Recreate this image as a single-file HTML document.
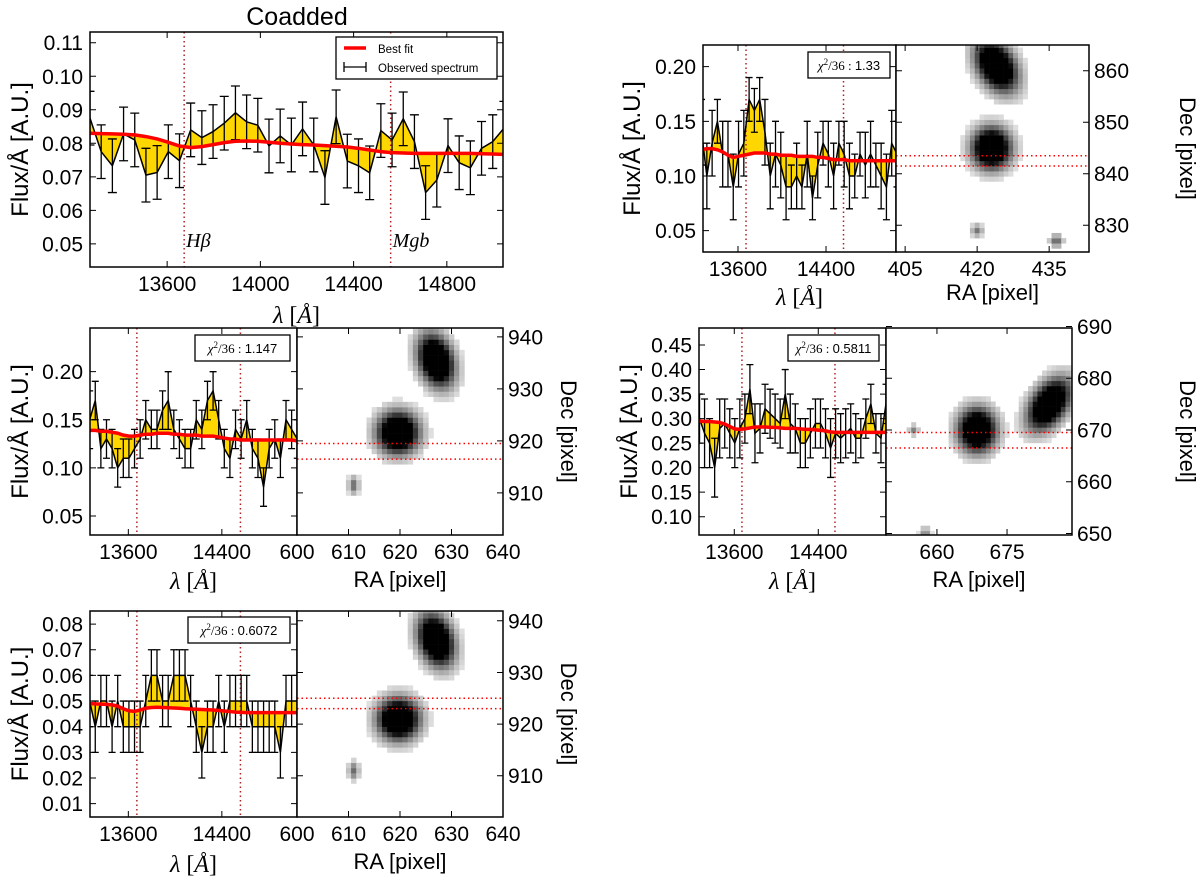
<!DOCTYPE html>
<html><head><meta charset="utf-8">
<style>
html,body{margin:0;padding:0;background:#fff;}
svg{display:block;font-family:"Liberation Sans",sans-serif;}
</style></head>
<body>
<svg id="fig" width="1200" height="883" viewBox="0 0 1200 883" xmlns="http://www.w3.org/2000/svg"></svg>
<script>
// ---- shared wavelength grid ----
const wave = [13269,13317,13365,13413,13461,13509,13557,13605,13653,13701,13749,13797,13845,13893,13941,13989,14037,14085,14133,14181,14229,14277,14325,14373,14421,14469,14517,14565,14613,14661,14709,14757,14805,14853,14901,14949,14997,15045];
// ---- Panel A (coadded) ----
const fluxA = [0.0875,0.0775,0.0733,0.0828,0.0810,0.0705,0.0713,0.0775,0.0748,0.0840,0.0817,0.0835,0.0860,0.0891,0.0864,0.0854,0.0792,0.0822,0.0795,0.0843,0.0795,0.0698,0.0879,0.0747,0.0733,0.0712,0.0838,0.0810,0.0873,0.0805,0.0653,0.0690,0.0793,0.0742,0.0727,0.0785,0.0805,0.0845];
const errA = [0.008,0.008,0.008,0.008,0.008,0.008,0.008,0.008,0.008,0.008,0.008,0.008,0.008,0.008,0.008,0.008,0.008,0.008,0.008,0.008,0.008,0.008,0.008,0.008,0.008,0.008,0.008,0.008,0.008,0.008,0.008,0.008,0.008,0.008,0.008,0.008,0.008,0.008];
const fitA = [0.0830,0.0829,0.0828,0.0827,0.0825,0.0820,0.0813,0.0803,0.0792,0.0787,0.0790,0.0796,0.0802,0.0806,0.0807,0.0806,0.0803,0.0800,0.0798,0.0796,0.0795,0.0793,0.0791,0.0789,0.0785,0.0780,0.0775,0.0772,0.0771,0.0770,0.0770,0.0770,0.0770,0.0770,0.0770,0.0769,0.0768,0.0767];
const yticksA = [0.05,0.06,0.07,0.08,0.09,0.10,0.11];
const xticksA = [13600,14000,14400,14800];
// ---- Panel B ----
const fluxB = [0.14,0.10,0.13,0.15,0.12,0.12,0.09,0.12,0.13,0.17,0.16,0.17,0.14,0.10,0.12,0.11,0.09,0.09,0.10,0.09,0.12,0.08,0.11,0.13,0.12,0.10,0.13,0.12,0.10,0.10,0.12,0.11,0.12,0.11,0.10,0.09,0.13,0.12];
const errB = [0.03,0.03,0.03,0.02,0.03,0.03,0.03,0.03,0.03,0.02,0.02,0.02,0.03,0.03,0.03,0.03,0.03,0.02,0.03,0.02,0.03,0.02,0.03,0.02,0.03,0.03,0.02,0.03,0.03,0.02,0.02,0.03,0.03,0.02,0.03,0.03,0.03,0.03];
const fitB = [0.124,0.125,0.125,0.124,0.122,0.119,0.117,0.118,0.119,0.120,0.121,0.121,0.121,0.120,0.120,0.119,0.119,0.119,0.118,0.118,0.118,0.118,0.117,0.117,0.116,0.115,0.115,0.115,0.114,0.114,0.114,0.114,0.114,0.114,0.114,0.114,0.114,0.114];
const yticksB = [0.05,0.10,0.15,0.20];
// ---- Panel C ----
const fluxC = [0.15,0.17,0.12,0.13,0.12,0.10,0.11,0.11,0.12,0.13,0.15,0.14,0.14,0.16,0.17,0.14,0.13,0.12,0.12,0.15,0.14,0.17,0.18,0.15,0.12,0.11,0.14,0.13,0.15,0.12,0.11,0.08,0.12,0.13,0.11,0.15,0.14,0.13];
const errC = [0.03,0.02,0.02,0.02,0.02,0.02,0.02,0.02,0.02,0.02,0.02,0.02,0.02,0.02,0.03,0.02,0.02,0.02,0.02,0.02,0.02,0.02,0.02,0.02,0.02,0.02,0.02,0.02,0.02,0.02,0.02,0.02,0.02,0.02,0.02,0.02,0.02,0.02];
const fitC = [0.139,0.139,0.138,0.138,0.137,0.136,0.134,0.133,0.133,0.134,0.135,0.135,0.136,0.136,0.136,0.135,0.135,0.134,0.134,0.134,0.133,0.133,0.133,0.132,0.131,0.130,0.130,0.129,0.129,0.129,0.129,0.129,0.129,0.129,0.129,0.129,0.129,0.128];
const yticksC = [0.05,0.10,0.15,0.20];
// ---- Panel D ----
const fluxD = [0.30,0.27,0.25,0.20,0.28,0.29,0.27,0.25,0.28,0.30,0.36,0.27,0.28,0.32,0.31,0.30,0.29,0.35,0.29,0.28,0.25,0.25,0.27,0.29,0.29,0.27,0.24,0.27,0.26,0.27,0.28,0.26,0.26,0.30,0.33,0.27,0.26,0.33];
const errD = [0.05,0.07,0.05,0.06,0.06,0.05,0.05,0.05,0.06,0.05,0.05,0.06,0.05,0.05,0.05,0.05,0.05,0.05,0.06,0.05,0.05,0.05,0.05,0.05,0.05,0.05,0.06,0.05,0.05,0.05,0.05,0.05,0.04,0.04,0.04,0.04,0.05,0.04];
const fitD = [0.295,0.294,0.294,0.293,0.292,0.289,0.284,0.279,0.278,0.279,0.281,0.283,0.283,0.283,0.282,0.282,0.281,0.280,0.280,0.280,0.279,0.278,0.278,0.277,0.276,0.275,0.273,0.272,0.272,0.272,0.272,0.272,0.272,0.272,0.272,0.272,0.272,0.272];
const yticksD = [0.10,0.15,0.20,0.25,0.30,0.35,0.40,0.45];
// ---- Panel E ----
const fluxE = [0.05,0.04,0.05,0.05,0.04,0.05,0.04,0.04,0.04,0.04,0.05,0.06,0.06,0.05,0.05,0.06,0.06,0.06,0.05,0.04,0.03,0.04,0.04,0.05,0.04,0.05,0.05,0.05,0.05,0.04,0.04,0.04,0.04,0.04,0.03,0.05,0.05,0.05];
const errE = [0.01,0.01,0.01,0.01,0.01,0.01,0.01,0.01,0.01,0.01,0.01,0.01,0.01,0.01,0.01,0.01,0.01,0.01,0.01,0.01,0.01,0.01,0.01,0.01,0.01,0.01,0.01,0.01,0.01,0.01,0.01,0.01,0.01,0.01,0.01,0.01,0.01,0.01];
const fitE = [0.0490,0.0489,0.0488,0.0487,0.0485,0.0480,0.0470,0.0462,0.0460,0.0465,0.0472,0.0475,0.0476,0.0475,0.0474,0.0473,0.0472,0.0470,0.0469,0.0468,0.0467,0.0466,0.0465,0.0463,0.0461,0.0459,0.0457,0.0456,0.0455,0.0455,0.0455,0.0455,0.0455,0.0455,0.0455,0.0455,0.0455,0.0455];
const yticksE = [0.01,0.02,0.03,0.04,0.05,0.06,0.07,0.08];
const xticksSmall = [13600,14400];
const lineWaves = [13673,14559];
const lineNames = ["Hβ","Mgb"];
// ---- image blobs: [ra, dec, sigmaMinor, sigmaMajor, tiltDeg, amplitude] ----
const blobsB = [[423,845,2.2,2.2,0,2.3],[424,861,2.0,3.0,35,2.3],[420,829,0.7,0.7,0,0.35],[436.5,827,0.8,0.7,0,0.45]];
const blobsC = [[619.6,921.6,2.2,2.2,0,2.3],[627,935.5,1.8,2.8,18,2.3],[611,911.5,0.6,1.0,0,0.4]];
const blobsD = [[668.6,670,2.2,2.3,0,2.3],[684,675,1.9,3.1,-40,2.3],[655,670,0.6,0.6,0,0.3],[657.5,650,0.7,0.7,0,0.3]];
const blobsE = [[619.7,921,2.2,2.2,0,2.3],[627,936.3,1.8,2.8,18,2.3],[611,911,0.6,1.0,0,0.4]];
const raTicksB=[405,420,435], decTicksB=[830,840,850,860];
const raTicksC=[600,610,620,630,640], decTicksC=[910,920,930,940];
const raTicksD=[660,675], decTicksD=[650,660,670,680,690];
const decLinesB=[843.5,841.5], decLinesC=[919.5,916.5], decLinesD=[669.5,666.5], decLinesE=[925,923];

const NS="http://www.w3.org/2000/svg";
const svg=document.getElementById('fig');
function mk(tag,attrs,parent){const e=document.createElementNS(NS,tag);for(const k in attrs)e.setAttribute(k,attrs[k]);(parent||svg).appendChild(e);return e;}
function txt(s,attrs,parent){const t=mk('text',attrs,parent);t.textContent=s;return t;}
const TF=21;

function spectrum(name,box,xr,yr,flux,err,fit,yticks,xticks,fmt,cap,opts){
  const [x0,y0,x1,y1]=box;
  const X=v=>x0+(v-xr[0])/(xr[1]-xr[0])*(x1-x0);
  const Y=v=>y1-(v-yr[0])/(yr[1]-yr[0])*(y1-y0);
  const g=mk('g',{});
  
  
  const cid='clip-'+name;
  const cp=mk('clipPath',{id:cid},g); mk('rect',{x:x0,y:y0,width:x1-x0,height:y1-y0},cp);
  const pg=mk('g',{'clip-path':'url(#'+cid+')'},g);
  let pts=wave.map((w,i)=>X(w)+','+Y(flux[i]));
  let back=wave.map((w,i)=>X(w)+','+Y(fit[i])).reverse();
  const fill=mk('polygon',{points:pts.concat(back).join(' '),fill:'#ffd700',stroke:'none'},pg);
  
  
  lineWaves.forEach((w,i)=>{
    const l=mk('line',{x1:X(w),x2:X(w),y1:y0,y2:y1,stroke:'#b22222','stroke-width':1.5,'stroke-dasharray':'1.5,3'},pg);
    
    
  });
  wave.forEach((w,i)=>{
    const xx=X(w),ya=Y(flux[i]+err[i]),yb=Y(flux[i]-err[i]);
    const eb=mk('path',{d:`M${xx},${ya}V${yb}M${xx-cap},${ya}H${xx+cap}M${xx-cap},${yb}H${xx+cap}`,stroke:'#000','stroke-width':1.3,fill:'none'},pg);
    
    
  });
  const dl=mk('polyline',{points:pts.join(' '),fill:'none',stroke:'#000','stroke-width':1.5},pg);
  
  
  const fl=mk('polyline',{points:wave.map((w,i)=>X(w)+','+Y(fit[i])).join(' '),fill:'none',stroke:'#ff0000','stroke-width':3.5},pg);
  
  
  mk('rect',{x:x0,y:y0,width:x1-x0,height:y1-y0,fill:'none',stroke:'#000','stroke-width':1.5},g);
  yticks.forEach(v=>{
    const yy=Y(v);
    mk('path',{d:`M${x0},${yy}h6M${x1},${yy}h-6`,stroke:'#000','stroke-width':1},g);
    const t=txt(v.toFixed(fmt),{x:x0-7,y:yy+7.5,'font-size':TF,'text-anchor':'end'},g);
    
    
  });
  xticks.forEach(v=>{
    const xx=X(v);
    mk('path',{d:`M${xx},${y1}v-6M${xx},${y0}v6`,stroke:'#000','stroke-width':1},g);
    const t=txt(String(v),{x:xx,y:y1+24,'font-size':TF,'text-anchor':'middle'},g);
    
    
  });
  const yl=txt('Flux/Å [A.U.]',{x:0,y:0,'font-size':24,'text-anchor':'middle',transform:`translate(${opts.ylx},${(y0+y1)/2}) rotate(-90)`},g);
  
  
  const xl=mk('text',{x:(x0+x1)/2,y:opts.xly,'font-size':24,'text-anchor':'middle','font-family':'"Liberation Serif",serif'},g);
  xl.innerHTML='<tspan font-style="italic">λ</tspan> [<tspan font-style="italic">Å</tspan>]';
  
  
  if(opts.chi){
    const [cx0,cy0,cx1,cy1]=opts.chibox;
    const cb=mk('g',{},g);
    
    
    mk('rect',{x:cx0,y:cy0,width:cx1-cx0,height:cy1-cy0,fill:'#fff',stroke:'#000','stroke-width':1.3},cb);
    const ct=mk('text',{x:(cx0+cx1)/2,y:(cy0+cy1)/2+5,'font-size':13,'text-anchor':'middle'},cb);
    ct.innerHTML='<tspan font-family="Liberation Serif,serif" font-style="italic">χ</tspan><tspan font-size="9" dy="-5" font-family="Liberation Serif,serif">2</tspan><tspan dy="5" font-family="Liberation Serif,serif">/36 : </tspan>'+opts.chi;
  }
  if(opts.names){
    lineWaves.forEach((w,i)=>{
      const t=txt(lineNames[i],{x:X(w)+2,y:y1-20,'font-size':20,'font-style':'italic','font-family':'"Liberation Serif",serif'},g);
      
      
    });
  }
  return g;
}

function image(name,box,rar,decr,blobs,raTicks,decTicks,decLines,labelOpts){
  const [x0,y0,x1,y1]=box;
  const X=v=>x0+(v-rar[0])/(rar[1]-rar[0])*(x1-x0);
  const Y=v=>y1-(v-decr[0])/(decr[1]-decr[0])*(y1-y0);
  const g=mk('g',{});
  
  
  const cid='iclip-'+name;
  const cp=mk('clipPath',{id:cid},g); mk('rect',{x:x0,y:y0,width:x1-x0,height:y1-y0},cp);
  const pg=mk('g',{'clip-path':'url(#'+cid+')'},g);
  mk('rect',{x:x0,y:y0,width:x1-x0,height:y1-y0,fill:'#fff'},pg);
  const pw=Math.abs(X(1)-X(0)), ph=Math.abs(Y(1)-Y(0));
  for(let ra=Math.floor(rar[0]);ra<=Math.ceil(rar[1]);ra++){
    for(let de=Math.floor(decr[0]);de<=Math.ceil(decr[1]);de++){
      let I=0;
      blobs.forEach(b=>{
        const dx=ra-b[0], dy=-(de-b[1]);
        const a=b[4]*Math.PI/180;
        const v=dx*Math.sin(a)+dy*Math.cos(a);
        const u=dx*Math.cos(a)-dy*Math.sin(a);
        I+=b[5]*Math.exp(-0.5*((u/b[2])**2+(v/b[3])**2));
      });
      if(I<0.03)continue;
      const c=Math.round(255*(1-Math.pow(Math.min(1,I),0.6)));
      mk('rect',{x:X(ra-0.5),y:Y(de+0.5),width:pw+0.3,height:ph+0.3,fill:`rgb(${c},${c},${c})`},pg);
    }
  }
  decLines.forEach((d,i)=>{
    const l=mk('line',{x1:x0,x2:x1,y1:Y(d),y2:Y(d),stroke:'#ff0000','stroke-width':1.5,'stroke-dasharray':'1.5,3'},pg);
    
    
  });
  mk('rect',{x:x0,y:y0,width:x1-x0,height:y1-y0,fill:'none',stroke:'#000','stroke-width':1.5},g);
  raTicks.forEach(v=>{
    const xx=X(v);
    mk('path',{d:`M${xx},${y1}v-6M${xx},${y0}v6`,stroke:'#000','stroke-width':1},g);
    const t=txt(String(v),{x:xx,y:y1+24,'font-size':TF,'text-anchor':'middle'},g);
    
    
  });
  decTicks.forEach(v=>{
    const yy=Y(v);
    mk('path',{d:`M${x0},${yy}h6M${x1},${yy}h-6`,stroke:'#000','stroke-width':1},g);
    const t=txt(String(v),{x:x1+5,y:yy+7.5,'font-size':TF},g);
    
    
  });
  const xl=txt('RA [pixel]',{x:(x0+x1)/2,y:labelOpts.xly,'font-size':22,'text-anchor':'middle'},g);
  
  
  const yl=txt('Dec [pixel]',{x:0,y:0,'font-size':22,'text-anchor':'middle',transform:`translate(${labelOpts.ylx},${(y0+y1)/2}) rotate(90)`},g);
  
  
}

const title=txt('Coadded',{x:297,y:25,'font-size':25,'text-anchor':'middle'});



spectrum('coadded',[90,32,503,267],[13269,15041],[0.0431,0.1132],fluxA,errA,fitA,yticksA,xticksA,2,4.5,{ylx:28,xly:323,names:true});
const lg=mk('g',{});


mk('rect',{x:336,y:37,width:161,height:42,fill:'#fff',stroke:'#000','stroke-width':1.3},lg);
mk('line',{x1:344,x2:366,y1:48,y2:48,stroke:'#ff0000','stroke-width':3.5},lg);
mk('path',{d:'M344,62V72M366,62V72M344,67H366',stroke:'#000','stroke-width':1.3,fill:'none'},lg);
const le1=txt('Best fit',{x:378,y:53,'font-size':11.5},lg);


const le2=txt('Observed spectrum',{x:378,y:72,'font-size':11.5},lg);



spectrum('B',[703,45,896,252],[13282,15036],[0.0305,0.2198],fluxB,errB,fitB,yticksB,xticksSmall,2,3.5,{ylx:640,xly:305,chi:'1.33',chibox:[808,52,890,78]});
image('B',[896,45,1089,252],[403.1,443.3],[824.8,865],blobsB,raTicksB,decTicksB,decLinesB,{xly:300,ylx:1180});

spectrum('C',[90,328,297,535],[13272,15043],[0.0302,0.2454],fluxC,errC,fitC,yticksC,xticksSmall,2,3.5,{ylx:28,xly:589,chi:'1.147',chibox:[195,335,290,361]});
image('C',[297,328,503,535],[600,640],[901.9,941.7],blobsC,raTicksC,decTicksC,decLinesC,{xly:587,ylx:561});

spectrum('D',[699,328,886,535],[13264,15045],[0.0627,0.4847],fluxD,errD,fitD,yticksD,xticksSmall,2,3.5,{ylx:637,xly:589,chi:'0.5811',chibox:[788,335,879,361]});
image('D',[886,328,1072,535],[649.1,688.9],[649.7,689.7],blobsD,raTicksD,decTicksD,decLinesD,{xly:587,ylx:1180});

spectrum('E',[90,611,297,817],[13272,15043],[0.0048,0.0851],fluxE,errE,fitE,yticksE,xticksSmall,2,3.5,{ylx:28,xly:872,chi:'0.6072',chibox:[188,617,290,643]});
image('E',[297,611,503,817],[600,640],[902,941.9],blobsE,raTicksC,decTicksC,decLinesE,{xly:869,ylx:561});
</script>
</body></html>
